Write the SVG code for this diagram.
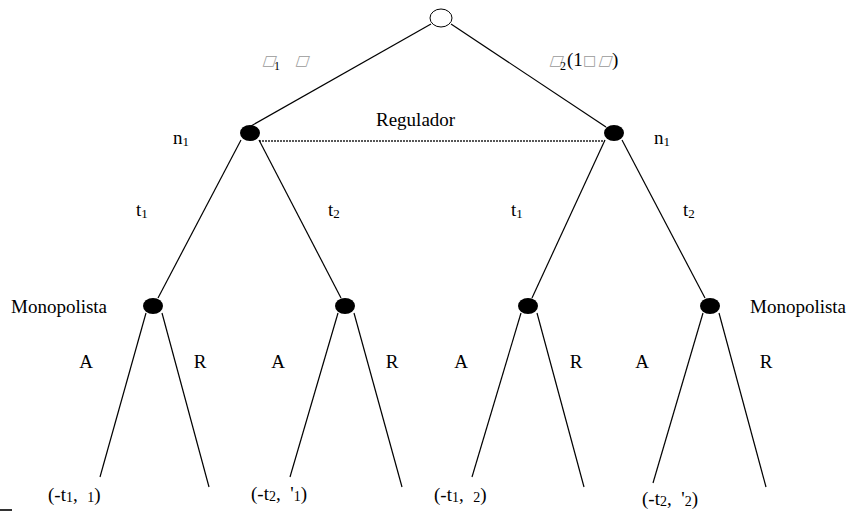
<svg xmlns="http://www.w3.org/2000/svg" width="850" height="512" viewBox="0 0 850 512">
<style>
text{font-family:"Liberation Serif","Times New Roman",serif;font-size:19px;fill:#000;white-space:pre}
text.sub{font-size:12px}
.c{text-anchor:middle}
text.sym{font-family:"DejaVu Sans",sans-serif;font-size:14px;fill:#999}
.e{stroke:#000;stroke-width:1.2;fill:none}
.dot{stroke:#222;stroke-width:1.6;stroke-dasharray:2 1;fill:none}
.n{fill:#000}
</style>
<rect width="850" height="512" fill="#fff"/>
<g id="connectors">
<line class="e" x1="431" y1="24" x2="251" y2="126"/>
<line class="e" x1="451" y1="24" x2="606" y2="127"/>
<line class="dot" x1="259" y1="141" x2="605" y2="141"/>
<line class="e" x1="241" y1="140" x2="158" y2="298"/>
<line class="e" x1="259" y1="140" x2="341" y2="298"/>
<line class="e" x1="605" y1="140" x2="532" y2="298"/>
<line class="e" x1="622" y1="140" x2="705" y2="298"/>
<line class="e" x1="146" y1="313" x2="100" y2="477"/>
<line class="e" x1="162" y1="313" x2="209" y2="487"/>
<line class="e" x1="338" y1="313" x2="290" y2="477"/>
<line class="e" x1="354" y1="313" x2="402" y2="487"/>
<line class="e" x1="521" y1="313" x2="472" y2="477"/>
<line class="e" x1="537" y1="313" x2="584" y2="487"/>
<line class="e" x1="703" y1="313" x2="653" y2="483"/>
<line class="e" x1="719" y1="313" x2="766" y2="487"/>
</g>
<g id="root"><ellipse cx="441" cy="18" rx="11" ry="9" fill="#fff" stroke="#000" stroke-width="1"/></g>
<g id="reg-left"><ellipse class="n" cx="250" cy="133" rx="10" ry="8"/></g>
<g id="reg-right"><ellipse class="n" cx="614" cy="133" rx="10" ry="8"/></g>
<g id="mono-1"><ellipse class="n" cx="153" cy="306" rx="10" ry="8"/></g>
<g id="mono-2"><ellipse class="n" cx="345" cy="306" rx="10" ry="8"/></g>
<g id="mono-3"><ellipse class="n" cx="528" cy="306" rx="10" ry="8"/></g>
<g id="mono-4"><ellipse class="n" cx="710" cy="306" rx="10" ry="8"/></g>
<g id="labels">
<text class="sym" transform="translate(262,65) skewX(-18)">□</text>
<text class="sub" x="274" y="70">1</text>
<text class="sym" transform="translate(295,65) skewX(-18)">□</text>
<text class="sym" transform="translate(549,65) skewX(-18)">□</text>
<text class="sub" x="560" y="70">2</text>
<text x="567" y="66">(1</text>
<text class="sym" x="583" y="65">□</text>
<text class="sym" transform="translate(598,65) skewX(-18)">□</text>
<text x="612" y="66">)</text>
<text x="376" y="126">Regulador</text>
<text x="173" y="144">n<tspan font-size="13" dy="2">1</tspan></text>
<text x="654" y="144">n<tspan font-size="13" dy="2">1</tspan></text>
<text x="136" y="216">t<tspan font-size="13" dy="2">1</tspan></text>
<text x="328" y="216">t<tspan font-size="13" dy="2">2</tspan></text>
<text x="511" y="216">t<tspan font-size="13" dy="2">1</tspan></text>
<text x="683" y="216">t<tspan font-size="13" dy="2">2</tspan></text>
<text x="11" y="313">Monopolista</text>
<text x="750" y="313">Monopolista</text>
<text class="c" x="86" y="368">A</text>
<text class="c" x="200" y="368">R</text>
<text class="c" x="278" y="368">A</text>
<text class="c" x="392" y="368">R</text>
<text class="c" x="461" y="368">A</text>
<text class="c" x="576" y="368">R</text>
<text class="c" x="642" y="368">A</text>
<text class="c" x="766" y="368">R</text>
<text x="48" y="501">(-t<tspan font-size="14" dy="1">1</tspan><tspan dy="-1">,  </tspan><tspan font-size="14" dy="1">1</tspan><tspan dy="-1">)</tspan></text>
<text x="251" y="500">(-t<tspan font-size="14" dy="1">2</tspan><tspan dy="-1">,  '</tspan><tspan font-size="14" dy="1">1</tspan><tspan dy="-1">)</tspan></text>
<text x="434" y="501">(-t<tspan font-size="14" dy="1">1</tspan><tspan dy="-1">,  </tspan><tspan font-size="14" dy="1">2</tspan><tspan dy="-1">)</tspan></text>
<text x="642" y="505">(-t<tspan font-size="14" dy="1">2</tspan><tspan dy="-1">,  '</tspan><tspan font-size="14" dy="1">2</tspan><tspan dy="-1">)</tspan></text>
</g>
<rect x="0" y="509" width="12" height="2" fill="#333"/>
</svg>
